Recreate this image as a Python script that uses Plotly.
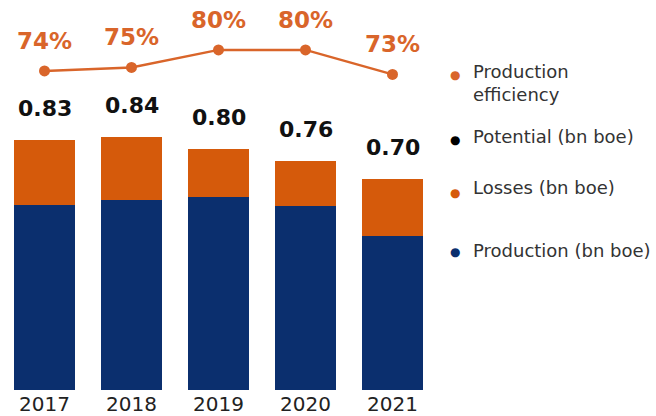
import plotly.graph_objects as go

years = ["2017", "2018", "2019", "2020", "2021"]
potential = [0.83, 0.84, 0.80, 0.76, 0.70]
production = [0.615, 0.63, 0.64, 0.61, 0.51]
losses = [round(p - q, 3) for p, q in zip(potential, production)]
efficiency = [74, 75, 80, 80, 73]
pct_labels = ["74%", "75%", "80%", "80%", "73%"]
pot_labels = ["0.83", "0.84", "0.80", "0.76", "0.70"]
legend_items = ["Production<br>efficiency", "Potential (bn boe)", "Losses (bn boe)", "Production (bn boe)"]

BLUE = "#0B2F6E"
ORANGE = "#D55A0B"
LINE_OR = "#D9652A"
FONT = "DejaVu Sans"

fig = go.Figure()
fig.add_trace(go.Bar(x=years, y=production, marker_color=BLUE, marker_line_width=0, name="Production"))
fig.add_trace(go.Bar(x=years, y=losses, marker_color=ORANGE, marker_line_width=0, name="Losses"))
fig.add_trace(go.Scatter(x=years, y=efficiency, yaxis="y2", mode="lines+markers",
                         line=dict(color=LINE_OR, width=2.5), marker=dict(size=11, color=LINE_OR),
                         name="Efficiency", cliponaxis=False))

annotations = []
for i, (v, t) in enumerate(zip(efficiency, pct_labels)):
    annotations.append(dict(x=i, y=v, xref="x", yref="y2", text=t, showarrow=False,
                            yshift=30, yanchor="middle",
                            font=dict(family=FONT, size=23, color=LINE_OR, weight="bold")))
for i, (v, t) in enumerate(zip(potential, pot_labels)):
    annotations.append(dict(x=i, y=v, xref="x", yref="y", text=t, showarrow=False,
                            yshift=32, yanchor="middle",
                            font=dict(family=FONT, size=22, color="#111111", weight="bold")))

leg_y = [0.809, 0.666, 0.532, 0.368]
dot_y = [0.829, 0.658, 0.518, 0.363]
dot_colors = [LINE_OR, "#000000", ORANGE, BLUE]
for txt, yy in zip(legend_items, leg_y):
    annotations.append(dict(xref="paper", yref="paper", x=1.08, y=yy, text=txt, showarrow=False,
                            xanchor="left", yanchor="middle", align="left",
                            font=dict(family=FONT, size=18, color="#333333")))
for yy, c in zip(dot_y, dot_colors):
    annotations.append(dict(xref="paper", yref="paper", x=1.044, y=yy, text="●", showarrow=False,
                            xanchor="center", yanchor="middle",
                            font=dict(family="DejaVu Sans", size=12, color=c)))

fig.update_layout(
    barmode="stack", bargap=0.29,
    width=656, height=416,
    margin=dict(l=1, r=220, t=10, b=26),
    paper_bgcolor="white", plot_bgcolor="white",
    showlegend=False,
    xaxis=dict(type="category", showline=False, showgrid=False, ticks="", range=[-0.5, 4.5],
               tickfont=dict(family=FONT, size=20, color="#222222")),
    yaxis=dict(range=[0, 1.262], visible=False),
    yaxis2=dict(range=[-17.2, 91.4], overlaying="y", visible=False),
    annotations=annotations,
    font=dict(family=FONT),
)
fig.write_html("out.html", config={"displayModeBar": False},
               post_script="document.body.style.margin='0px';")
